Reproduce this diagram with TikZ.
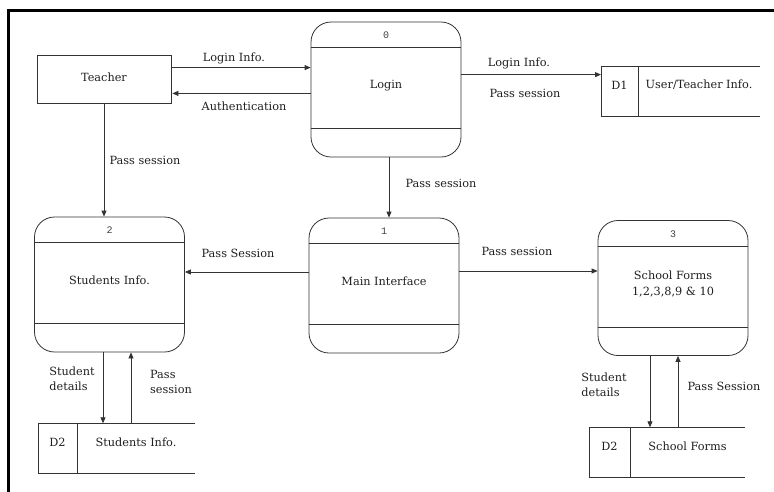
\documentclass[tikz,border=0pt]{standalone}
\usepackage{fontspec}
\setmainfont{DejaVu Serif}
\newfontfamily\numfont{Liberation Mono}
\usetikzlibrary{arrows.meta,calc}

\tikzset{
  line/.style={draw=black!80, line width=0.8pt},
  arr/.style={line, -{Triangle[length=6pt,width=5pt]}},
  proc/.style={line, rounded corners=20pt, minimum width=150pt, minimum height=135pt, inner sep=0pt},
  ext/.style={line, rectangle, minimum width=134pt, minimum height=48pt, inner sep=0pt},
  lbl/.style={font=\fontsize{11.3}{15.5}\selectfont, text=black!88, inner sep=0pt, align=left},
  num/.style={font=\numfont\fontsize{10}{12}\selectfont, text=black!75, inner sep=0pt},
  store/.style={minimum height=50pt, inner sep=0pt},
}

% process: rounded box with an id band on top and an empty band at the foot
\newcommand{\procbox}[5]{% name, x, y, id, text
  \node[proc] (#1) at (#2,#3) {};
  \draw[line] ($(#1.north west)+(0,26)$) -- ($(#1.north east)+(0,26)$);
  \draw[line] ($(#1.south west)+(0,-29)$) -- ($(#1.south east)+(0,-29)$);
  \node[num] (#1-id) at ($(#1.north)+(0,14)$) {#4};
  \node[lbl, align=center] (#1-txt) at ($(#1.center)+(0,-4)$) {#5};
}

% data store: open-ended box split into id and name
\newcommand{\storebox}[7]{% name, left x, right x, y, divider offset, id, text
  \coordinate (#1-nw) at (#2,#4-25);
  \coordinate (#1-sw) at (#2,#4+25);
  \coordinate (#1-ne) at (#3,#4-25);
  \coordinate (#1-se) at (#3,#4+25);
  \node[store, minimum width=#3-#2] (#1) at ({(#2+#3)/2},#4) {};
  \draw[line] (#1-ne) -- (#1-nw) -- (#1-sw) -- (#1-se);
  \draw[line] ($(#1-nw)+(#5,0)$) -- ($(#1-sw)+(#5,0)$);
  \node[lbl] (#1-id) at ($(#1-nw)!0.38!(#1-sw)+(#5/2,0)$) {#6};
  \node[lbl] (#1-txt) at ($(#1-nw)!0.38!(#1-sw)+({#5+(#3-#2-#5)/2},0)$) {#7};
}

\begin{document}
\begin{tikzpicture}[x=1pt,y=-1pt]
\useasboundingbox (0,0) rectangle (774,491);

% frame: top and left rules
\draw[line width=3pt, line cap=rect] (774,10.5) -- (8,10.5) -- (8,491);

% external entity
\node[ext] (teacher) at (104,79) {};
\node[lbl] (teacher-txt) at (104,77) {Teacher};

% processes
\procbox{login}{386}{89.5}{0}{Login}
\procbox{main}{384}{285.5}{1}{Main Interface}
\procbox{stud}{109.5}{284.5}{2}{Students Info.}
\procbox{forms}{673}{288}{3}{School Forms\\1,2,3,8,9 \& 10}

% data stores
\storebox{d1}{601}{760}{91}{37}{D1}{User/Teacher Info.}
\storebox{d2a}{38}{195}{448.5}{39}{D2}{Students Info.}
\storebox{d2b}{589}{745}{452.5}{41}{D2}{School Forms}

% flows between teacher and login
\coordinate (t1) at ($(teacher.north east)+(0,13)$);
\draw[arr] (t1) -- (t1 -| login.west);
\coordinate (t2) at ($(teacher.south east)+(1,-10)$);
\draw[arr] (t2 -| login.west) -- (t2);
\node[lbl] (l-login) at (234,58) {Login Info.};
\node[lbl] (l-auth) at (244,106) {Authentication};

% login to user store
\coordinate (t3) at ($(login.north east)+(0,53)$);
\draw[arr] (t3) -- (t3 -| d1-nw);
\node[lbl] (l-login2) at (519,63) {Login Info.};
\node[lbl] (l-pass1) at (525,93) {Pass session};

% teacher to students
\draw[arr] (teacher.south) -- (teacher.south |- stud.north);
\node[lbl] (l-pass2) at (145,160) {Pass session};

% login to main interface
\draw[arr] ([xshift=3]login.south) -- ([xshift=5]main.north);
\node[lbl] (l-pass3) at (441,183) {Pass session};

% main interface to students and school forms
\coordinate (t4) at ($(main.west)+(0,-13.5)$);
\draw[arr] (t4) -- (t4 -| stud.east);
\node[lbl] (l-pass4) at (238,253) {Pass Session};
\coordinate (t5) at ($(main.east)+(0,-14.5)$);
\draw[arr] (t5) -- (t5 -| forms.west);
\node[lbl] (l-pass5) at (517,251) {Pass session};

% students process and its store
\draw[arr] ([xshift=-6.5]stud.south) -- ([xshift=-13.5]d2a.north);
\draw[arr] ([xshift=14.5]d2a.north) -- ([xshift=21.5]stud.south);
\node[lbl] (l-det1) at (72,379) {Student\\details};
\node[lbl] (l-pass6) at (171,382) {Pass\\session};

% school forms process and its store
\draw[arr] ([xshift=-23]forms.south) -- ([xshift=-17]d2b.north);
\draw[arr] ([xshift=11]d2b.north) -- ([xshift=5]forms.south);
\node[lbl] (l-det2) at (604,385) {Student\\details};
\node[lbl] (l-pass7) at (724,386) {Pass Session};
\end{tikzpicture}
\end{document}
